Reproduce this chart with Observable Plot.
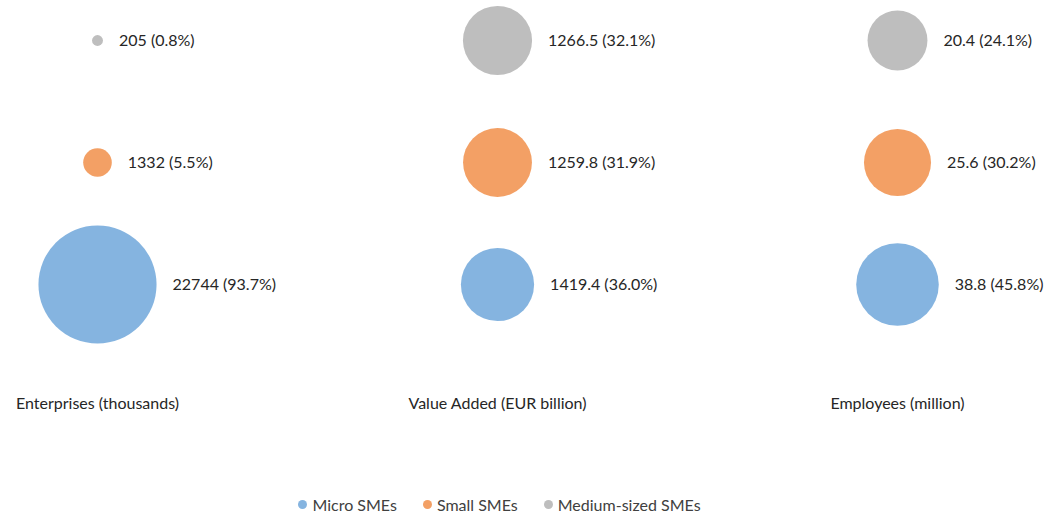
<!DOCTYPE html>
<html>
<head>
<meta charset="utf-8">
<script src="https://cdn.jsdelivr.net/npm/d3@7"></script>
<script src="https://cdn.jsdelivr.net/npm/@observablehq/plot@0.6"></script>
<style>
  html, body { margin: 0; padding: 0; background: #fff; }
  body { width: 1049px; height: 518px; overflow: hidden; font-family: Lato, "Open Sans", sans-serif; }
  #legend { display: flex; justify-content: center; align-items: center; gap: 26px; height: 28px; font-size: 16px; color: #404040; padding-right: 50px; }
  #legend .item { display: flex; align-items: center; gap: 5px; }
  #legend .dot { width: 9px; height: 9px; border-radius: 50%; display: inline-block; }
</style>
</head>
<body>
<div id="chart"></div>
<div id="legend"></div>
<script>
const metrics = ["Enterprises (thousands)", "Value Added (EUR billion)", "Employees (million)"];
const sizes = ["Micro SMEs", "Small SMEs", "Medium-sized SMEs"];
const colors = ["#85B4E0", "#F3A065", "#BEBEBE"];

const enterprises = [22744, 1332, 205];
const enterpriseShares = [93.7, 5.5, 0.8];
const valueAdded = [1419.4, 1259.8, 1266.5];
const valueAddedShares = [36.0, 31.9, 32.1];
const employees = [38.8, 25.6, 20.4];
const employeeShares = [45.8, 30.2, 24.1];

const series = [
  [enterprises, enterpriseShares],
  [valueAdded, valueAddedShares],
  [employees, employeeShares]
];
const data = [];
metrics.forEach((m, i) => {
  sizes.forEach((s, j) => {
    data.push({metric: m, size: s, value: series[i][0][j], share: series[i][1][j]});
  });
});

const rDomain = [0, 100];
const rRange = [0, 61];
const rScale = d3.scaleSqrt().domain(rDomain).range(rRange);

const labelMarks = data.map(d => Plot.text([d], {
  x: "metric", y: "size",
  text: d => `${d.value} (${d.share.toFixed(1)}%)`,
  textAnchor: "start",
  dx: rScale(d.share) + 16,
  fill: "#262626",
  fontSize: 16
}));

const chart = Plot.plot({
  width: 1049,
  height: 490,
  margin: 0,
  style: {fontFamily: "Lato, 'Open Sans', sans-serif", background: "#fff"},
  x: {type: "point", domain: metrics, range: [96, 897], padding: 0, axis: null},
  y: {type: "point", domain: ["Medium-sized SMEs", "Small SMEs", "Micro SMEs"], range: [39, 284], padding: 0, axis: null},
  r: {type: "sqrt", domain: rDomain, range: rRange},
  color: {domain: sizes, range: colors},
  marks: [
    Plot.dot(data, {x: "metric", y: "size", r: "share", fill: "size", stroke: null}),
    ...labelMarks,
    Plot.text(metrics, {x: d => d, frameAnchor: "bottom", dy: -82, text: d => d, fill: "#262626", fontSize: 16})
  ]
});
document.getElementById("chart").appendChild(chart);

const legend = document.getElementById("legend");
sizes.forEach((s, i) => {
  const item = document.createElement("span");
  item.className = "item";
  const dot = document.createElement("span");
  dot.className = "dot";
  dot.style.background = colors[i];
  const label = document.createElement("span");
  label.textContent = s;
  item.appendChild(dot);
  item.appendChild(label);
  legend.appendChild(item);
});
</script>
</body>
</html>
